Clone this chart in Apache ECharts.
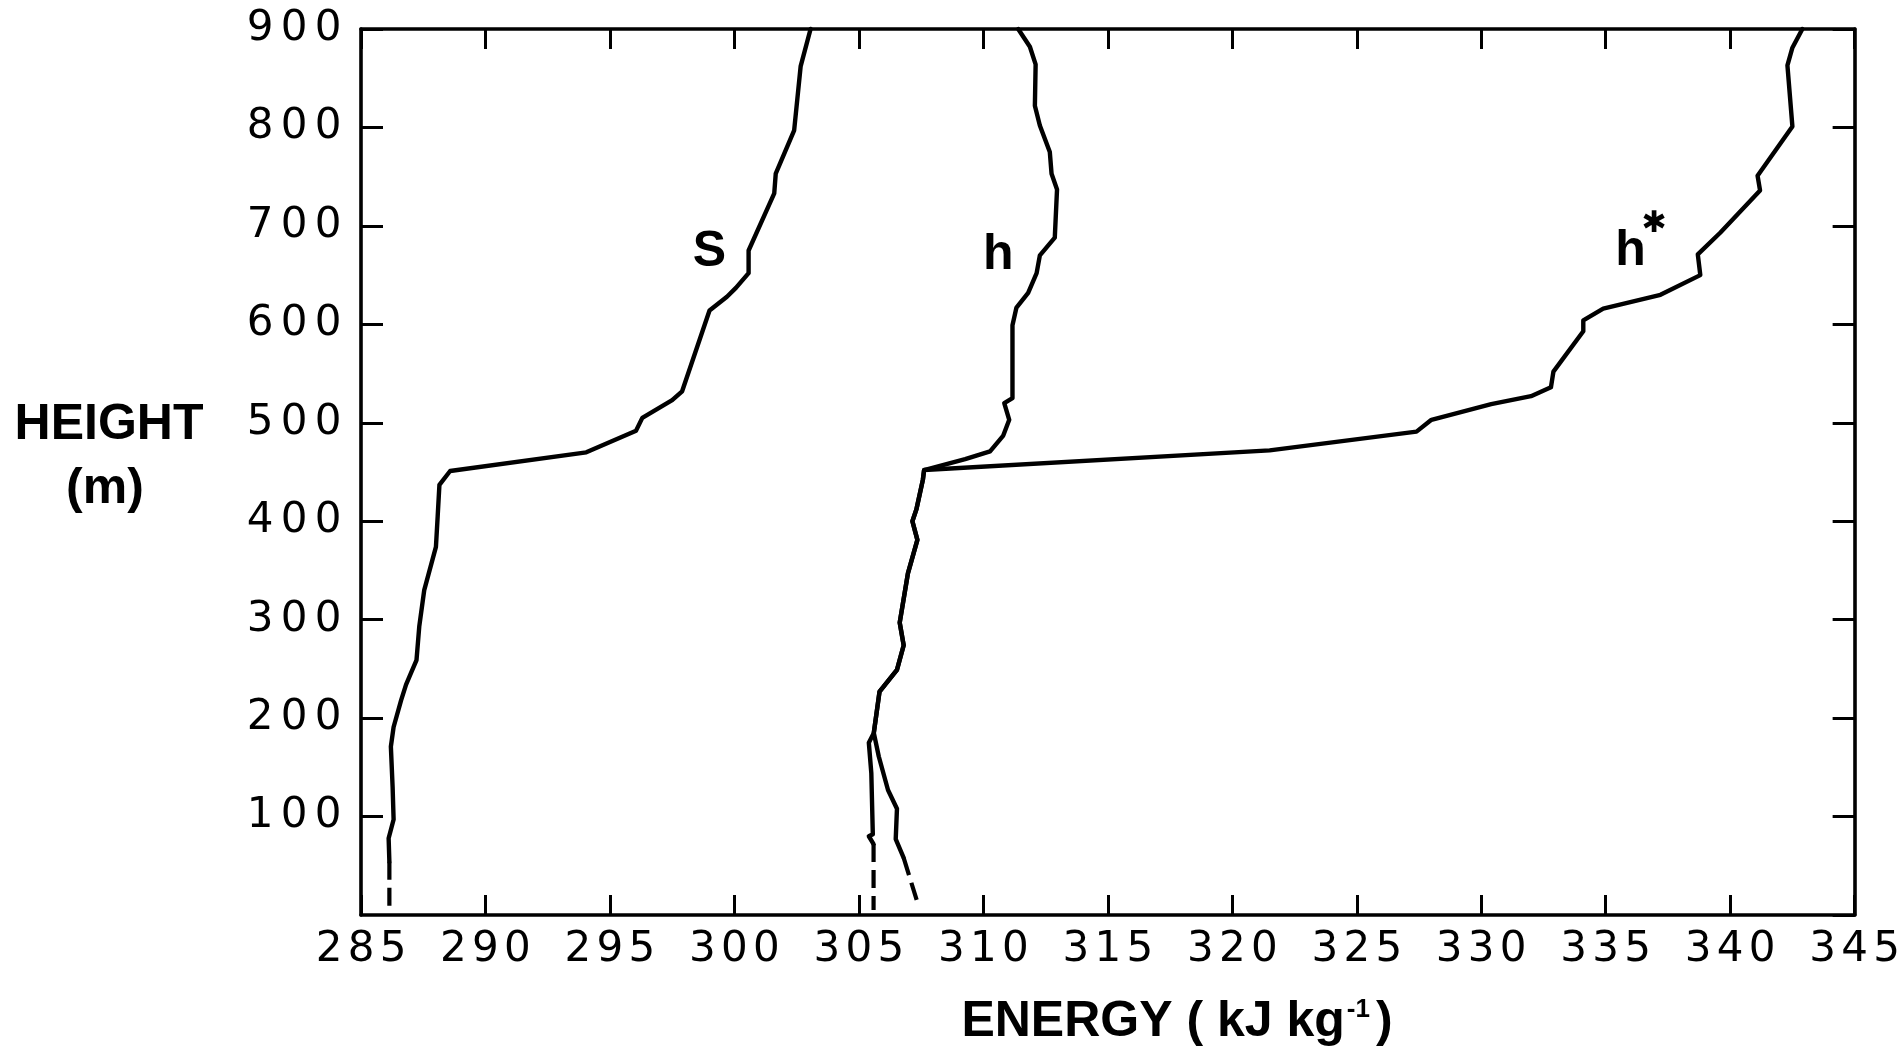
<!DOCTYPE html>
<html>
<head>
<meta charset="utf-8">
<title>Energy profiles</title>
<script src="https://cdn.jsdelivr.net/npm/echarts@6/dist/echarts.min.js"></script>
<style>
  html, body { margin: 0; padding: 0; background: #ffffff; }
  #chart { width: 1903px; height: 1050px; }
</style>
</head>
<body>
<div id="chart"></div>
<script>
// Axis ticks
const energyTicks = [285, 290, 295, 300, 305, 310, 315, 320, 325, 330, 335, 340, 345];
const heightTicks = [0, 100, 200, 300, 400, 500, 600, 700, 800, 900];

// Dry static energy s: [energy kJ/kg, height m]
const sSolid = [
  [303.06, 900], [302.66, 862], [302.40, 797], [301.66, 753], [301.60, 733],
  [300.57, 675], [300.57, 652], [300.06, 637], [299.70, 628], [299.00, 614],
  [297.90, 532], [297.50, 523], [296.30, 505], [296.05, 492], [294.05, 470],
  [288.58, 451], [288.15, 437], [288.08, 405], [288.01, 374], [287.54, 330],
  [287.34, 293], [287.23, 259], [287.01, 246], [286.81, 234], [286.61, 218],
  [286.31, 191], [286.20, 171], [286.27, 130], [286.31, 97], [286.11, 78],
  [286.14, 54]
];
const sSurface = [[286.14, 54], [286.14, 8]];

// Moist static energy h
const hUpper = [
  [311.40, 900], [311.87, 882], [312.10, 864], [312.07, 822], [312.27, 802],
  [312.67, 775], [312.74, 753], [312.96, 737], [312.87, 688], [312.27, 670],
  [312.14, 652], [311.80, 632], [311.33, 617], [311.17, 599], [311.17, 525],
  [310.84, 520], [311.04, 503], [310.80, 487], [310.27, 471], [309.27, 463]
];
// common h / h* trace below cloud base
const hShared = [
  [307.62, 452], [307.57, 442], [307.31, 412], [307.15, 400], [307.35, 381],
  [306.97, 347], [306.64, 297], [306.80, 274], [306.53, 249], [305.83, 227],
  [305.60, 185]
];
const hLower = [
  [305.40, 175], [305.50, 144], [305.56, 82], [305.40, 80], [305.59, 72]
];
const hSurface = [[305.59, 72], [305.59, 5]];

// Saturated moist static energy h*
const hStarUpper = [
  [342.90, 900], [342.50, 881], [342.30, 863], [342.50, 801], [341.10, 751],
  [341.20, 736], [339.60, 693], [338.70, 671], [338.80, 650], [337.20, 630],
  [334.90, 616], [334.10, 604], [334.10, 593], [332.90, 552], [332.80, 536],
  [332.00, 527], [330.40, 519], [328.00, 503], [327.40, 491], [321.50, 472]
];
const hStarLower = [
  [305.80, 161], [306.17, 127], [306.53, 108], [306.48, 77], [306.80, 58]
];
const hStarSurface = [[306.80, 58], [307.41, 8]];

const INK = '#000000';
const digitFont = 'DejaVu Sans';
const titleFont = 'Liberation Sans';

// each digit sits in its own fixed-width cell for the wide tick numerals
function spacedDigits(v) {
  return String(v).split('').map(c => '{d|' + c + '}').join('');
}

const solidStyle = { color: INK, width: 4.4, cap: 'round', join: 'round' };
const dashStyle = { color: INK, width: 4.2, type: [18, 8], cap: 'butt' };

function curveLabel(coord, text, size) {
  return {
    coord: coord,
    symbol: 'rect',
    symbolSize: 1,
    itemStyle: { color: 'rgba(0,0,0,0)' },
    label: {
      show: true, position: 'inside', formatter: text,
      color: INK, fontSize: size, fontWeight: 'bold', fontFamily: titleFont
    }
  };
}

function lineSeries(name, data, style, labels) {
  const s = {
    name: name,
    type: 'line',
    data: data,
    symbol: 'none',
    lineStyle: style,
    clip: false,
    silent: true,
    z: 3
  };
  if (labels) {
    s.markPoint = { silent: true, animation: false, data: labels };
  }
  return s;
}

const axisLineStyle = { color: INK, width: 3.6 };
const tickStyle = { color: INK, width: 3 };

const chart = echarts.init(document.getElementById('chart'), null, { renderer: 'canvas' });

chart.setOption({
  animation: false,
  backgroundColor: '#ffffff',
  grid: { left: 361, right: 48, top: 29, bottom: 135, containLabel: false },
  xAxis: [
    {
      type: 'value', position: 'bottom',
      min: energyTicks[0], max: energyTicks[energyTicks.length - 1],
      interval: energyTicks[1] - energyTicks[0],
      axisLine: { show: true, onZero: false, lineStyle: axisLineStyle },
      axisTick: { show: true, inside: true, length: 20, lineStyle: tickStyle },
      splitLine: { show: false },
      axisLabel: {
        margin: 14,
        formatter: spacedDigits,
        rich: { d: { width: 32, align: 'center', fontSize: 42, fontFamily: digitFont, color: INK } }
      }
    },
    {
      type: 'value', position: 'top',
      min: energyTicks[0], max: energyTicks[energyTicks.length - 1],
      interval: energyTicks[1] - energyTicks[0],
      axisLine: { show: true, onZero: false, lineStyle: axisLineStyle },
      axisTick: { show: true, inside: true, length: 20, lineStyle: tickStyle },
      splitLine: { show: false },
      axisLabel: { show: false }
    }
  ],
  yAxis: [
    {
      type: 'value', position: 'left',
      min: heightTicks[0], max: heightTicks[heightTicks.length - 1],
      interval: heightTicks[1] - heightTicks[0],
      axisLine: { show: true, onZero: false, lineStyle: axisLineStyle },
      axisTick: { show: true, inside: true, length: 22, lineStyle: tickStyle },
      splitLine: { show: false },
      axisLabel: {
        margin: 16,
        showMinLabel: false,
        formatter: v => (v === 0 ? '' : spacedDigits(v)),
        rich: { d: { width: 34, align: 'center', fontSize: 42, fontFamily: digitFont, color: INK } }
      }
    },
    {
      type: 'value', position: 'right',
      min: heightTicks[0], max: heightTicks[heightTicks.length - 1],
      interval: heightTicks[1] - heightTicks[0],
      axisLine: { show: true, onZero: false, lineStyle: axisLineStyle },
      axisTick: { show: true, inside: true, length: 22, lineStyle: tickStyle },
      splitLine: { show: false },
      axisLabel: { show: false }
    }
  ],
  series: [
    lineSeries('s', sSolid, solidStyle, [curveLabel([299.0, 673], 'S', 50)]),
    lineSeries('s surface', sSurface, dashStyle),
    lineSeries('h', hUpper.concat(hShared, hLower), solidStyle, [curveLabel([310.6, 670], 'h', 50)]),
    lineSeries('h surface', hSurface, dashStyle),
    lineSeries('h*', hStarUpper.concat(hShared, hStarLower), solidStyle, [
      curveLabel([336.0, 674], 'h', 50),
      {
        coord: [336.94, 702], symbol: 'rect', symbolSize: 1,
        itemStyle: { color: 'rgba(0,0,0,0)' },
        label: { show: true, position: 'inside', formatter: '\u2731', color: INK, fontSize: 30, fontWeight: 'bold', fontFamily: digitFont }
      }
    ]),
    lineSeries('h* surface', hStarSurface, dashStyle)
  ],
  graphic: [
    {
      type: 'text', x: 109, y: 425,
      style: { text: 'HEIGHT', fill: INK, fontSize: 50, fontWeight: 'bold', fontFamily: titleFont, align: 'center', verticalAlign: 'middle' }
    },
    {
      type: 'text', x: 105, y: 489,
      style: { text: '(m)', fill: INK, fontSize: 50, fontWeight: 'bold', fontFamily: titleFont, align: 'center', verticalAlign: 'middle' }
    },
    {
      type: 'text', x: 1177, y: 1022,
      style: {
        text: 'ENERGY ( kJ kg{sup|-1})',
        fill: INK, fontSize: 50, fontWeight: 'bold', fontFamily: titleFont,
        align: 'center', verticalAlign: 'middle',
        rich: { sup: { fontSize: 26, fontWeight: 'bold', fontFamily: titleFont, fill: INK, verticalAlign: 'top', padding: [0, 6, 0, 2] } }
      }
    }
  ]
});
</script>
</body>
</html>
